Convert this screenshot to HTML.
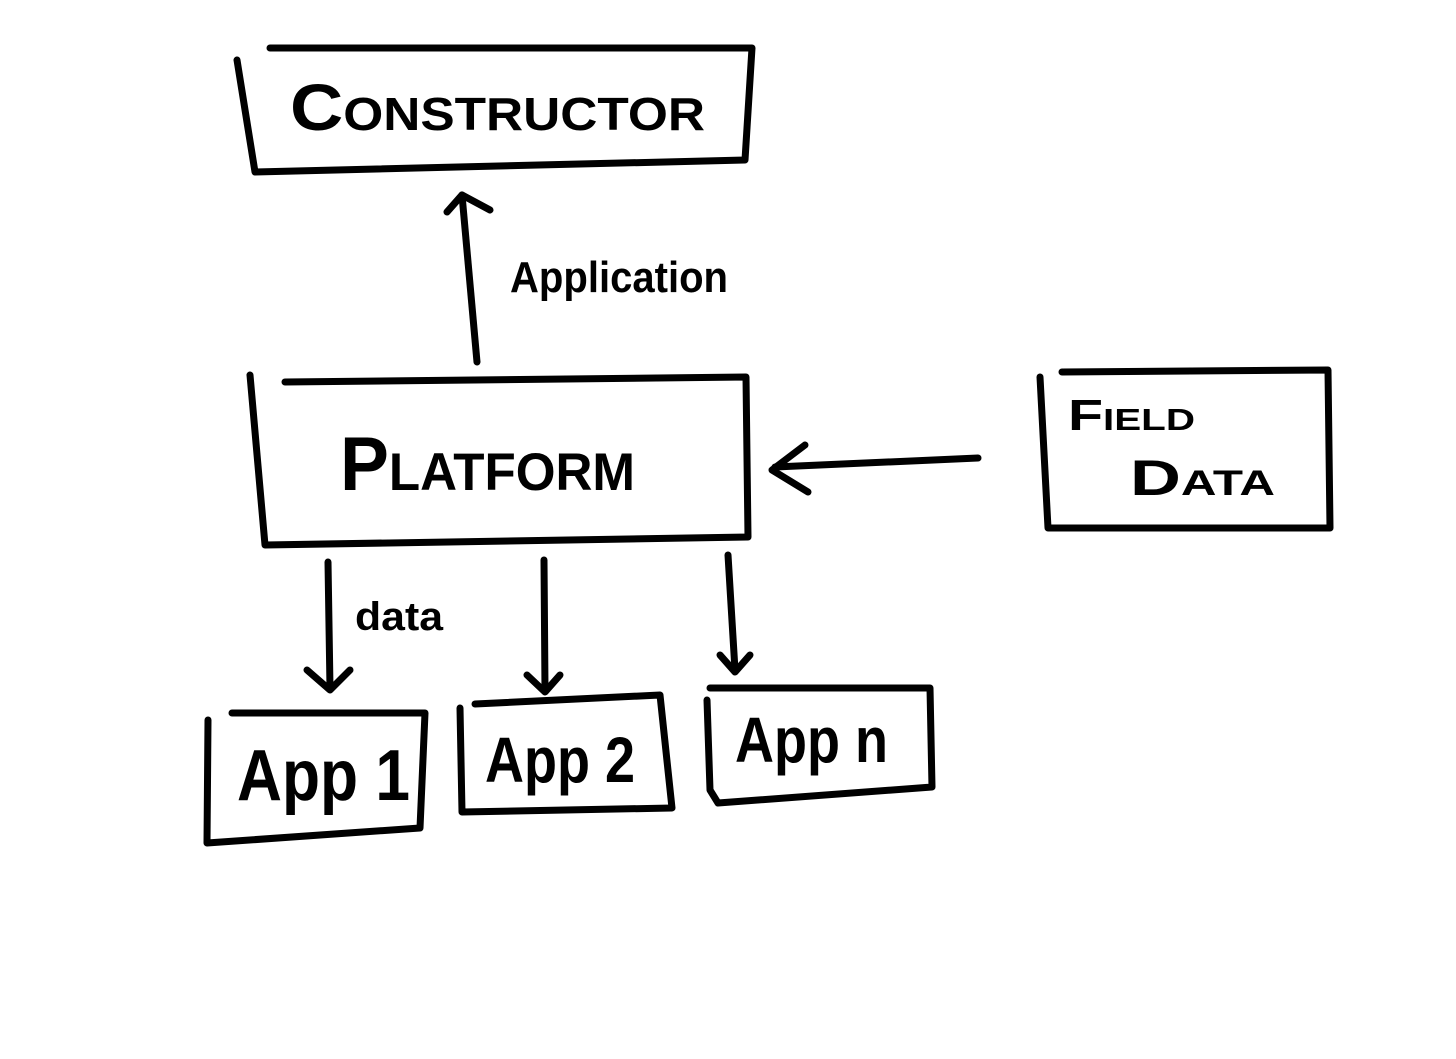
<!DOCTYPE html>
<html><head><meta charset="utf-8"><style>
html,body{margin:0;padding:0;background:#fff;}
svg{display:block;}
text{font-family:"Liberation Sans",sans-serif;fill:#000;font-weight:bold;}
</style></head><body>
<svg width="1456" height="1059" viewBox="0 0 1456 1059" xmlns="http://www.w3.org/2000/svg">
<g fill="none" stroke="#000" stroke-width="7" stroke-linecap="round" stroke-linejoin="round">
<polyline points="270,48 752,48 745,160 255,172 237,60"/>
<line x1="477" y1="362" x2="462" y2="195"/>
<polyline points="447,212 462,195 490,210"/>
<polyline points="285,382 746,377 748,537 265,545 250,375"/>
<line x1="978" y1="458" x2="775" y2="467"/>
<polyline points="805,445 772,470 808,492"/>
<polyline points="1040,377 1048,528 1330,528 1328,370 1062,372"/>
<line x1="328" y1="562" x2="330" y2="688"/>
<polyline points="307,670 330,690 350,670"/>
<line x1="544" y1="560" x2="545" y2="690"/>
<polyline points="527,675 545,692 560,675"/>
<line x1="728" y1="555" x2="735" y2="670"/>
<polyline points="720,655 735,672 750,655"/>
<polyline points="232,713 425,713 420,828 207,843 208,720"/>
<polyline points="460,708 462,812 672,808 660,695 475,704"/>
<polyline points="710,688 930,688 932,787 718,803 710,790 707,700"/>
</g>
<text x="290" y="130" font-size="66" textLength="415" lengthAdjust="spacingAndGlyphs" style="font-variant:small-caps">Constructor</text>
<text x="510" y="292" font-size="44" textLength="218" lengthAdjust="spacingAndGlyphs">Application</text>
<text x="340" y="490" font-size="76" textLength="295" lengthAdjust="spacingAndGlyphs" style="font-variant:small-caps">Platform</text>
<text x="1068" y="430" font-size="44" textLength="127" lengthAdjust="spacingAndGlyphs" style="font-variant:small-caps">Field</text>
<text x="1130" y="495" font-size="50" textLength="145" lengthAdjust="spacingAndGlyphs" style="font-variant:small-caps">Data</text>
<text x="355" y="630" font-size="40" textLength="88" lengthAdjust="spacingAndGlyphs">data</text>
<text x="237" y="800" font-size="72" textLength="173" lengthAdjust="spacingAndGlyphs">App 1</text>
<text x="485" y="782" font-size="64" textLength="150" lengthAdjust="spacingAndGlyphs">App 2</text>
<text x="735" y="762" font-size="64" textLength="153" lengthAdjust="spacingAndGlyphs">App n</text>
</svg>
</body></html>
